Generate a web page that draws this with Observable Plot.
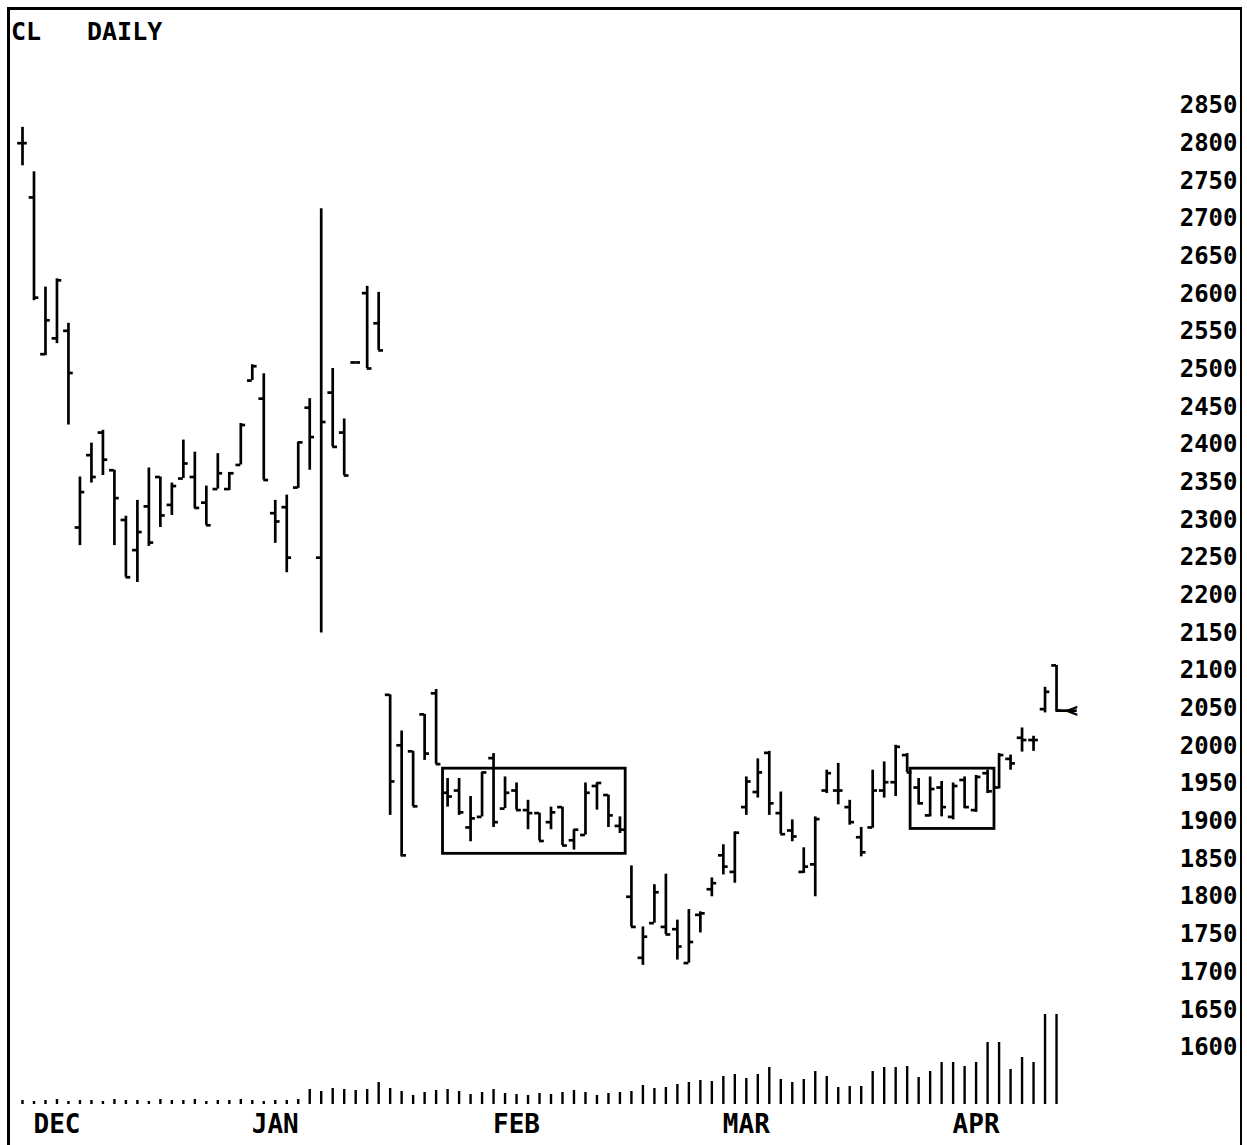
<!DOCTYPE html>
<html><head><meta charset="utf-8">
<script src="https://cdn.jsdelivr.net/npm/d3@7"></script>
<script src="https://cdn.jsdelivr.net/npm/@observablehq/plot@0.6"></script>
<style>
body{margin:0;background:#fff;}
#wrap{position:relative;width:1247px;height:1145px;overflow:hidden;background:#fff;font-family:"DejaVu Sans Mono",monospace;font-weight:bold;}
#frame{position:absolute;left:7px;top:7px;width:1230px;height:1160px;border-left:3px solid #000;border-top:3px solid #000;border-right:2px solid #000;pointer-events:none;}
.t{position:absolute;font-size:25px;line-height:1;top:19px;color:#000;}
#price,#vol{position:absolute;left:0;}
#price{top:0;} #vol{top:990px;}
</style></head>
<body>
<div id="wrap">
  <div id="vol"></div>
  <div id="price"></div>
  <div id="frame"></div>
  <div class="t" style="left:11px">CL</div>
  <div class="t" style="left:87px">DAILY</div>
</div>
<script>
// ---- data (bar index 0 = first December session) ----
const opens  = [2800,2728,2520,2541,2551,2290,2386,2416,2366,2300,2260,2318,2357,2320,2355,2357,2323,2341,2341,2373,2485,2461,2309,2317,2343,2449,2250,2469,2416,2509,2601,2561,
  2068,2001,1993,2042,2070,1938,1941,1892,1906,1984,1917,1941,1915,1911,1899,1919,1875,1882,1947,1935,1894,
  1800,1719,1765,1760,1757,1712,1776,1810,1855,1833,1919,1939,1991,1911,1888,1833,1843,1941,1941,1919,1879,1892,1941,1952,1988,
  1945,1908,1945,1906,1955,1915,1964,1945,1983,2011,2008,2049,2107];
const highs  = [2821,2762,2609,2620,2561,2357,2402,2419,2366,2305,2326,2369,2357,2349,2406,2390,2345,2388,2363,2428,2506,2494,2326,2333,2403,2461,2713,2501,2434,2509,2610,2602,
  2068,2020,1993,2042,2075,1957,1957,1933,1965,1990,1959,1951,1928,1911,1919,1919,1889,1951,1951,1935,1906,
  1841,1760,1816,1830,1769,1783,1780,1825,1869,1886,1959,1983,1993,1939,1902,1865,1906,1968,1977,1928,1892,1968,1979,2001,1990,
  1957,1959,1953,1951,1959,1961,1968,1990,1988,2024,2013,2078,2107];
const lows   = [2770,2591,2518,2534,2426,2266,2349,2359,2266,2224,2217,2265,2290,2306,2355,2315,2293,2341,2339,2373,2485,2353,2269,2230,2342,2366,2150,2397,2359,2509,2501,2525,
  1908,1853,1920,1981,1976,1919,1908,1873,1906,1892,1917,1915,1889,1874,1889,1868,1862,1882,1915,1892,1884,
  1760,1709,1765,1750,1716,1712,1752,1800,1829,1818,1908,1931,1908,1883,1873,1831,1800,1937,1922,1895,1853,1891,1931,1933,1965,
  1922,1906,1906,1902,1917,1912,1937,1943,1968,1992,1993,2044,2045];
const closes = [2800,2595,2565,2618,2495,2337,2357,2380,2329,2224,2284,2270,2306,2345,2375,2316,2293,2362,2362,2426,2504,2353,2298,2250,2403,2410,2430,2397,2359,2509,2501,2525,
  1953,1855,1920,1990,1976,1933,1912,1904,1965,1899,1938,1915,1911,1874,1912,1868,1889,1938,1951,1908,1889,
  1760,1747,1806,1750,1734,1740,1778,1818,1840,1885,1953,1965,1924,1883,1880,1840,1903,1964,1941,1899,1859,1941,1952,1999,1965,
  1924,1943,1919,1947,1919,1959,1940,1988,1977,2008,2008,2072,2047];
const volumes = [4,3,4,5,3,4,4,3,5,4,4,3,5,4,4,5,3,4,4,5,4,3,4,4,5,
  15,13,16,15,14,15,22,16,13,9,
  12,14,15,13,10,12,15,11,10,9,11,10,12,14,12,9,11,12,13,
  19,16,17,20,22,24,23,28,30,26,30,37,25,22,25,33,28,17,18,18,33,37,37,38,27,33,42,42,38,42,62,62,35,47,42,90,90];
const monthLabels = ["DEC","JAN","FEB","MAR","APR"];
const monthBars   = [3, 22, 43, 63, 83];
const priceTicks  = d3.range(1600, 2851, 50);
// consolidation boxes (bar index span, price span)
const boxFrom   = [36.6, 77.3];
const boxTo     = [52.5, 84.6];
const boxTop    = [1970, 1970];
const boxBottom = [1857, 1890];

const bars = opens.map((o, i) => ({i, open: o, high: highs[i], low: lows[i], close: closes[i], vol: volumes[i]}));
const boxes = boxFrom.map((f, k) => ({x1: f, x2: boxTo[k], y1: boxBottom[k], y2: boxTop[k]}));
const last = bars[bars.length - 1];

const W = 1247, ML = 22, MR = 6;
const xDomain = [0, 106.1];
const font = "DejaVu Sans Mono";
const sw = 2.7;

const price = Plot.plot({
  width: W, height: 1062,
  marginLeft: ML, marginRight: MR, marginTop: 105, marginBottom: 15,
  style: {background: "transparent", fontFamily: font, fontWeight: "bold", color: "#000"},
  x: {domain: xDomain, axis: null},
  y: {domain: [1600, 2850]},
  marks: [
    Plot.ruleX(bars, {x: "i", y1: "low", y2: "high", stroke: "#000", strokeWidth: sw}),
    Plot.ruleY(bars, {x1: d => d.i - 0.42, x2: "i", y: "open", stroke: "#000", strokeWidth: sw}),
    Plot.ruleY(bars, {x1: "i", x2: d => d.i + 0.42, y: "close", stroke: "#000", strokeWidth: sw}),
    Plot.rect(boxes, {x1: "x1", x2: "x2", y1: "y1", y2: "y2", fill: "none", stroke: "#000", strokeWidth: 2.8}),
    Plot.ruleY([last], {x1: "i", x2: d => d.i + 1.8, y: "close", stroke: "#000", strokeWidth: sw}),
    Plot.text([last], {x: d => d.i + 1.35, y: "close", text: () => "<", fontSize: 20, fontWeight: "bold", fill: "#000"}),
    Plot.axisY(priceTicks, {anchor: "right", tickSize: 0, textAnchor: "end", dx: -13, label: null,
      tickFormat: d => String(d), fontSize: 24, fontWeight: "bold", fill: "#000"})
  ]
});
document.getElementById("price").appendChild(price);

const vol = Plot.plot({
  width: W, height: 155,
  marginLeft: ML, marginRight: MR, marginTop: 24, marginBottom: 41,
  style: {background: "transparent", fontFamily: font, fontWeight: "bold", color: "#000"},
  x: {domain: xDomain, label: null},
  y: {domain: [0, 90], axis: null},
  marks: [
    Plot.ruleX(bars, {x: "i", y1: 0, y2: "vol", stroke: "#000", strokeWidth: 2.4}),
    Plot.axisX(monthBars, {anchor: "bottom", tickSize: 0, tickPadding: 10, label: null,
      tickFormat: d => monthLabels[monthBars.indexOf(d)], fontSize: 26, fontWeight: "bold", fill: "#000"})
  ]
});
document.getElementById("vol").appendChild(vol);
</script>
</body></html>
